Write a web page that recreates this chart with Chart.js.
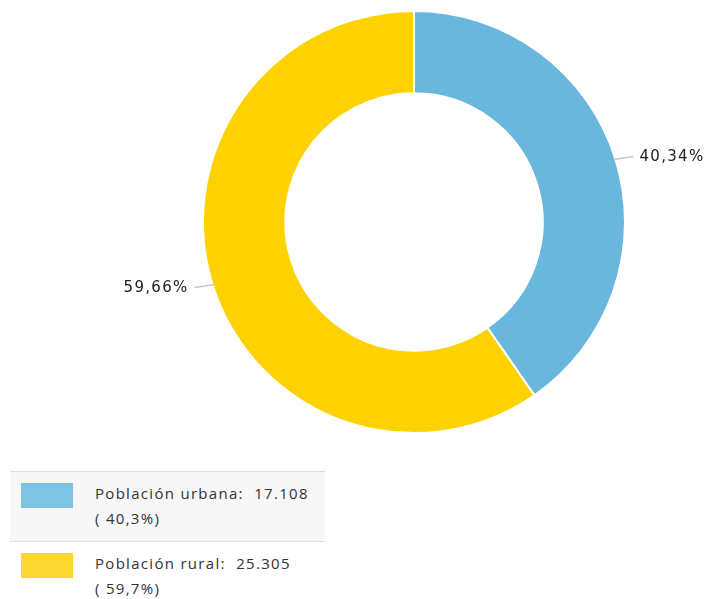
<!DOCTYPE html>
<html>
<head>
<meta charset="utf-8">
<script src="https://cdn.jsdelivr.net/npm/chart.js@4.4.1/dist/chart.umd.min.js"></script>
<style>
  html, body { margin: 0; padding: 0; background: #fff; }
  body { width: 709px; height: 599px; position: relative; overflow: hidden; font-family: "Open Sans", sans-serif; }
  #wrap { position: absolute; left: 0; top: 0; width: 709px; height: 450px; }
  #legend { position: absolute; left: 10px; top: 471px; width: 315px; }
  .item { position: relative; height: 69px; border-top: 1px solid #dedede; }
  .item.alt { background: #f7f7f7; }
  .sw { position: absolute; left: 11px; top: 11px; width: 52px; height: 25px; }
  .txt { position: absolute; left: 85px; top: 9px; font-size: 15px; line-height: 25px; color: #333; letter-spacing: 1.3px; white-space: nowrap; }
</style>
</head>
<body>
<div id="wrap"><canvas id="c" width="709" height="450"></canvas></div>
<div id="legend"></div>
<script>
const categories = ["Población urbana", "Población rural"];
const values = [17108, 25305];
const colors = ["#69b7dd", "#fdd200"];
const legendColors = ["#7ec3e4", "#fbd730"];

const total = values.reduce((a, b) => a + b, 0);
const fmtPct = (v, d) => (v / total * 100).toFixed(d).replace('.', ',') + '%';
const fmtNum = v => v.toLocaleString('de-DE');

const labelPlugin = {
  id: 'outLabels',
  afterDatasetsDraw(chart) {
    const ctx = chart.ctx;
    const meta = chart.getDatasetMeta(0);
    ctx.save();
    ctx.font = '15px "DejaVu Sans"';
    ctx.letterSpacing = '1.3px';
    ctx.fillStyle = '#222';
    ctx.strokeStyle = '#c8c8c8';
    ctx.lineWidth = 1.5;
    ctx.textBaseline = 'middle';
    meta.data.forEach((arc, i) => {
      const p = arc.getProps(['x', 'y', 'startAngle', 'endAngle', 'outerRadius'], true);
      const mid = (p.startAngle + p.endAngle) / 2;
      const cx = Math.cos(mid), cy = Math.sin(mid);
      const s = cx > 0 ? 1 : -1;
      const x1 = p.x + cx * (p.outerRadius - 2), y1 = p.y + cy * (p.outerRadius - 2);
      const x2 = x1 + s * 20, y2 = y1 - s * 3;
      ctx.beginPath();
      ctx.moveTo(x1, y1);
      ctx.lineTo(x2, y2);
      ctx.stroke();
      const txt = fmtPct(values[i], 2);
      ctx.textAlign = s > 0 ? 'left' : 'right';
      ctx.fillText(txt, x2 + s * 6, y2 + 1);
    });
    ctx.restore();
  }
};

new Chart(document.getElementById('c'), {
  type: 'doughnut',
  data: {
    labels: categories,
    datasets: [{
      data: values,
      backgroundColor: colors,
      borderColor: '#ffffff',
      borderWidth: 2,
      hoverOffset: 0
    }]
  },
  options: {
    responsive: false,
    animation: false,
    cutout: '61%',
    layout: { padding: { left: 202, right: 83, top: 10, bottom: 16 } },
    plugins: { legend: { display: false }, tooltip: { enabled: false } }
  },
  plugins: [labelPlugin]
});

const leg = document.getElementById('legend');
categories.forEach((c, i) => {
  const it = document.createElement('div');
  it.className = 'item' + (i === 0 ? ' alt' : '');
  it.innerHTML = '<div class="sw" style="background:' + legendColors[i] + '"></div>' +
    '<div class="txt">' + c + ':&nbsp; ' + fmtNum(values[i]) + '<br>( ' + fmtPct(values[i], 1) + ')</div>';
  leg.appendChild(it);
});
</script>
</body>
</html>
